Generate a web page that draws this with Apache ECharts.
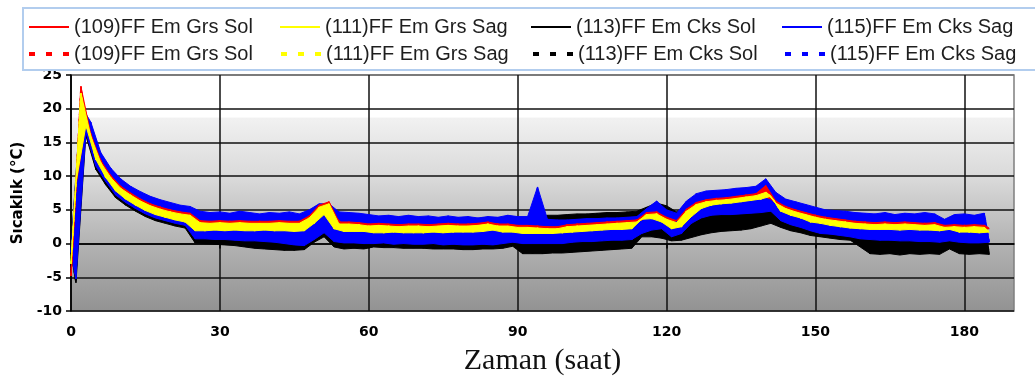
<!DOCTYPE html>
<html><head><meta charset="utf-8">
<script src="https://cdn.jsdelivr.net/npm/echarts@6/dist/echarts.min.js"></script>
<style>html,body{margin:0;padding:0;background:#fff;}#c{width:1035px;height:383px;}</style>
</head><body><div id="c"></div>
<script>
// sample times (hours), one reading per hour
const hours = Array.from({length: 186}, (_, i) => i);
const xTicks = [0, 30, 60, 90, 120, 150, 180];
const seriesNames = ['(109)FF Em Grs Sol', '(111)FF Em Grs Sag', '(113)FF Em Cks Sol', '(115)FF Em Cks Sag'];

// values (alternating upper / lower edge of each noisy trace)
const red109 = [
 -4.8,8.5,23.3,18.0,16.2,13.75,12.3,10.7,10.1,8.8,
 8.5,7.5,7.5,6.55,6.6,5.75,5.9,5.15,5.4,4.7,
 5.0,4.35,4.7,4.1,4.5,2.9,3.4,2.9,3.3,2.9,
 3.4,2.8,3.3,2.9,3.4,2.8,3.3,2.8,3.3,2.9,
 3.3,2.8,3.4,2.8,3.3,2.7,3.3,2.8,4.1,4.4,
 5.7,5.45,6.2,4.2,3.2,2.65,3.2,2.65,3.1,2.55,
 2.9,2.4,3.0,2.45,2.9,2.4,2.8,2.35,2.9,2.4,
 2.9,2.35,2.8,2.4,2.9,2.45,3.0,2.45,2.9,2.4,
 2.9,2.45,3.0,2.6,3.2,2.55,2.9,2.4,2.9,2.3,
 2.7,2.15,2.7,2.1,2.6,2.05,2.5,2.0,2.5,2.15,
 2.8,2.35,2.9,2.45,3.0,2.55,3.1,2.65,3.2,2.75,
 3.3,2.85,3.4,2.95,3.5,3.55,4.6,4.15,4.7,3.8,
 3.9,3.15,3.4,3.75,5.1,5.1,6.1,5.8,6.5,6.1,
 6.7,6.25,6.8,6.4,7.0,6.6,7.2,6.8,7.4,7.15,
 8.6,6.6,6.3,5.4,5.5,4.75,5.0,4.3,4.6,3.9,
 4.2,3.55,3.9,3.3,3.7,3.1,3.5,2.9,3.3,2.75,
 3.2,2.65,3.1,2.65,3.2,2.65,3.1,2.65,3.2,2.65,
 3.1,2.55,3.0,2.55,3.1,2.4,2.7,2.25,2.8,2.25,
 2.7,2.25,2.8,2.25,2.7,2.2
];
const yellow111 = [
 -3.0,9.0,22.3,17.5,15.9,12.5,12.0,9.8,9.8,7.8,
 8.2,6.6,7.2,5.7,6.3,4.9,5.6,4.3,5.1,3.9,
 4.7,3.5,4.4,3.2,4.2,1.9,3.1,1.9,3.0,2.0,
 3.1,1.9,3.0,2.0,3.1,1.9,3.0,1.9,3.0,2.0,
 3.0,1.9,3.1,1.9,3.0,1.8,3.0,1.9,3.8,3.0,
 5.4,4.3,5.9,2.2,2.9,1.8,2.9,1.8,2.8,1.8,
 2.6,1.6,2.7,1.6,2.6,1.7,2.5,1.6,2.6,1.6,
 2.6,1.6,2.5,1.7,2.6,1.6,2.7,1.7,2.6,1.7,
 2.6,1.7,2.7,1.8,2.9,2.0,2.6,1.7,2.6,1.7,
 2.4,1.5,2.4,1.5,2.3,1.5,2.2,1.5,2.2,1.6,
 2.5,1.7,2.6,1.8,2.7,1.9,2.8,2.0,2.9,2.1,
 3.0,2.1,3.1,2.2,3.2,3.6,4.3,3.7,4.4,3.2,
 3.6,2.2,3.1,2.5,4.8,4.0,5.8,5.2,6.2,5.7,
 6.4,5.9,6.5,6.0,6.7,6.2,6.9,6.4,7.1,6.6,
 7.6,7.0,6.0,4.8,5.2,4.2,4.7,3.8,4.3,3.2,
 3.9,3.0,3.6,2.7,3.4,2.5,3.2,2.3,3.0,2.2,
 2.9,2.1,2.8,2.1,2.9,2.1,2.8,2.0,2.9,2.1,
 2.8,2.0,2.7,2.0,2.8,1.9,2.4,2.1,2.5,1.7,
 2.4,1.7,2.5,1.6,2.4,1.7
];
const black113 = [
 -1.0,-5.8,21.4,16.0,17.0,11.0,13.0,8.7,10.7,6.8,
 9.2,5.7,8.2,4.8,7.4,4.0,6.7,3.4,6.2,3.0,
 5.8,2.6,5.4,2.3,5.2,0.1,4.2,0.0,4.1,-0.1,
 4.2,-0.2,4.0,-0.3,4.1,-0.5,4.2,-0.7,4.0,-0.8,
 4.1,-0.9,4.0,-1.0,4.2,-1.0,4.0,-0.9,4.8,0.2,
 5.6,1.0,5.8,-0.5,4.2,-0.8,4.1,-0.7,4.0,-0.8,
 3.8,-0.5,3.7,-0.6,3.8,-0.6,3.7,-0.7,3.8,-0.7,
 3.7,-0.7,3.8,-0.8,3.7,-0.8,3.8,-0.8,3.7,-0.9,
 3.8,-0.9,3.7,-0.8,3.9,-0.8,3.8,-0.7,3.9,-0.4,
 3.9,-1.5,3.9,-1.5,4.0,-1.5,4.2,-1.4,4.2,-1.4,
 4.3,-1.3,4.4,-1.2,4.4,-1.1,4.5,-1.0,4.6,-0.9,
 4.6,-0.8,4.7,-0.7,4.8,1.0,5.4,1.0,6.0,0.8,
 5.6,0.4,4.7,0.5,5.8,0.9,7.2,1.3,7.5,1.6,
 7.5,1.8,7.6,1.9,7.7,2.0,7.8,2.2,8.0,2.6,
 8.0,3.0,6.5,2.4,5.6,1.9,5.0,1.6,4.6,1.2,
 4.2,1.0,4.0,0.8,3.9,0.6,3.9,0.5,3.8,-0.5,
 3.8,-1.5,3.8,-1.6,3.9,-1.5,3.8,-1.7,3.8,-1.5,
 3.8,-1.6,3.9,-1.5,3.8,-1.6,3.2,-0.8,3.6,-1.5,
 3.7,-1.6,3.6,-1.5,3.7,-1.6
];
const blue115 = [
 -1.0,-5.2,20.5,16.5,18.0,11.5,13.5,9.2,11.2,7.2,
 9.6,6.1,8.5,5.2,7.7,4.4,7.0,3.8,6.5,3.4,
 6.1,3.0,5.7,2.7,5.5,0.7,4.8,0.7,4.6,0.6,
 4.7,0.6,4.5,0.5,4.8,0.4,4.6,0.4,4.4,0.3,
 4.6,0.2,4.5,0.0,4.7,-0.2,4.4,-0.3,5.0,0.6,
 5.9,1.6,5.9,0.3,4.7,0.1,4.6,0.1,4.5,0.0,
 4.3,0.0,4.1,0.1,4.2,-0.1,4.0,0.0,4.2,-0.1,
 4.0,-0.1,4.1,0.0,3.9,-0.2,4.1,-0.1,3.9,-0.2,
 4.0,-0.2,3.8,-0.1,4.0,-0.2,3.9,0.0,4.2,0.2,
 4.0,0.0,4.0,0.0,8.4,0.0,3.6,0.0,3.5,0.0,
 3.5,0.2,3.6,0.3,3.7,0.3,3.7,0.4,3.8,0.5,
 3.8,0.5,3.9,0.6,4.0,1.5,5.2,2.0,6.3,2.2,
 5.0,1.0,4.5,1.5,6.3,3.0,7.4,3.8,7.8,4.2,
 7.9,4.3,8.0,4.3,8.2,4.4,8.3,4.5,8.5,4.6,
 9.6,4.8,7.6,3.4,6.6,2.8,6.2,2.4,5.8,1.9,
 5.4,1.5,5.0,1.4,4.9,1.2,4.8,1.0,4.6,0.7,
 4.5,0.6,4.4,0.5,4.6,0.5,4.3,0.4,4.5,0.4,
 4.4,0.3,4.6,0.3,4.4,0.2,3.6,0.4,4.3,0.2,
 4.4,0.1,4.2,0.1,4.5,0.2
];

const valueSets = [red109, yellow111, black113, blue115];
const colors = ['#ff0000', '#ffff00', '#000000', '#0000ff'];
const zOrder = [4, 5, 2, 3];

const chart = echarts.init(document.getElementById('c'), null, {renderer: 'canvas'});
const series = [];
const legendData = [];

// filled band of each noisy trace: upper readings forward, lower readings back
function bandSeries(k) {
  return {
    type: 'custom', coordinateSystem: 'cartesian2d', z: zOrder[k], silent: true,
    data: [[0, 0]],
    renderItem: function (params, api) {
      const vals = valueSets[k];
      const pts = [];
      for (let i = 0; i < hours.length; i += 2) pts.push(api.coord([hours[i], vals[i]]));
      const lastOdd = hours.length % 2 === 0 ? hours.length - 1 : hours.length - 2;
      for (let i = lastOdd; i >= 1; i -= 2) pts.push(api.coord([hours[i], vals[i]]));
      return {type: 'polygon', shape: {points: pts}, style: {fill: colors[k], stroke: colors[k], lineWidth: 1}};
    }
  };
}

for (let k = 0; k < 4; k++) {
  series.push(bandSeries(k));
  series.push({
    name: seriesNames[k], type: 'line', symbol: 'none', z: zOrder[k],
    data: hours.map((h, i) => [h, valueSets[k][i]]),
    lineStyle: {color: colors[k], width: 1.2, join: 'bevel'},
    itemStyle: {color: colors[k]}
  });
  legendData.push({name: seriesNames[k], lineStyle: {width: 2, type: 'solid'}});
}
for (let k = 0; k < 4; k++) {
  series.push({
    name: seriesNames[k] + ' ', type: 'line', symbol: 'none', z: zOrder[k],
    data: hours.map((h, i) => [h, valueSets[k][i]]),
    lineStyle: {color: colors[k], width: 1.5, type: [3, 4], join: 'bevel'},
    itemStyle: {color: colors[k]}
  });
  legendData.push({name: seriesNames[k] + ' ', lineStyle: {width: 4, type: [6, 11]}});
}

const option = {
  animation: false,
  backgroundColor: '#ffffff',
  legend: {
    data: legendData,
    left: 23, top: 8, width: 1010,
    orient: 'horizontal',
    padding: [9, 10, 6, 4],
    itemWidth: 40, itemHeight: 12, itemGap: 7,
    borderColor: '#b2cdee', borderWidth: 2,
    selectedMode: false,
    itemStyle: {opacity: 0},
    textStyle: {fontFamily: 'Liberation Sans', fontSize: 20, color: '#1e1e1e', width: 198, lineHeight: 15}
  },
  grid: {
    left: 71, top: 75, right: 21, bottom: 72,
    show: true,
    outerBoundsMode: 'none',
    borderColor: '#7f7f7f', borderWidth: 1.5,
    backgroundColor: {
      type: 'linear', x: 0, y: 0, x2: 0, y2: 1,
      colorStops: [
        {offset: 0, color: '#ffffff'},
        {offset: 0.18, color: '#ffffff'},
        {offset: 0.185, color: '#f1f1f1'},
        {offset: 0.45, color: '#d8d8d8'},
        {offset: 0.7, color: '#b4b4b4'},
        {offset: 1, color: '#929292'}
      ]
    }
  },
  xAxis: {
    type: 'value', min: 0, max: 190, interval: 30,
    name: 'Zaman (saat)', nameLocation: 'middle', nameGap: 35,
    nameTextStyle: {fontFamily: 'Liberation Serif', fontSize: 30, color: '#111'},
    axisLine: {show: true, lineStyle: {color: '#000', width: 1.5}},
    axisTick: {show: true, length: 5, inside: false, customValues: xTicks, lineStyle: {color: '#000', width: 1.5}},
    axisLabel: {customValues: xTicks, margin: 14, fontFamily: 'DejaVu Sans', fontWeight: 'bold', fontSize: 14, color: '#000'},
    splitLine: {show: true, lineStyle: {color: ['#111', '#111', '#111', '#111', '#111', '#111', '#111', '#7f7f7f'], width: 1.5}}
  },
  yAxis: {
    type: 'value', min: -10, max: 25, interval: 5,
    name: 'Sıcaklık (°C)', nameLocation: 'middle', nameGap: 42, nameRotate: 90,
    nameTextStyle: {fontFamily: 'DejaVu Sans', fontWeight: 'bold', fontSize: 15, color: '#000'},
    axisLine: {show: true, lineStyle: {color: '#000', width: 1.5}},
    axisTick: {show: true, length: 5, inside: false, lineStyle: {color: '#000', width: 1.5}},
    axisLabel: {margin: 9, fontFamily: 'DejaVu Sans', fontWeight: 'bold', fontSize: 14, color: '#000'},
    splitLine: {show: true, lineStyle: {color: ['#111', '#111', '#111', '#111', '#111', '#111', '#111', '#6f6f6f'], width: 1.5}}
  },
  series: series
};
chart.setOption(option);
</script>
</body></html>
